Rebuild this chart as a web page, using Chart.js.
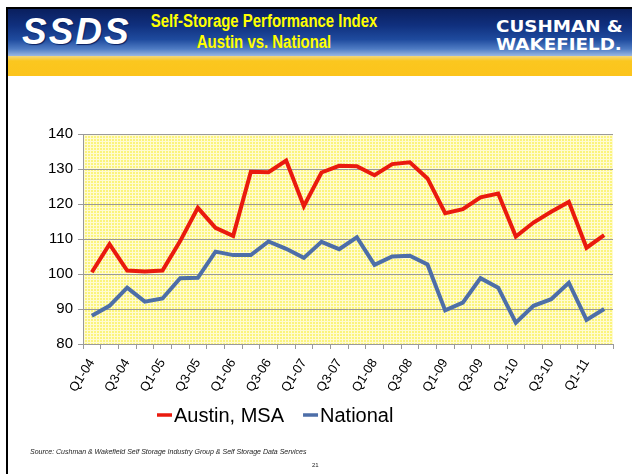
<!DOCTYPE html>
<html>
<head>
<meta charset="utf-8">
<script src="https://cdn.jsdelivr.net/npm/chart.js@4"></script>
<style>
  html, body { margin: 0; padding: 0; background: #fff; }
  body { width: 632px; height: 474px; position: relative; overflow: hidden; font-family: "Liberation Sans", Arial, sans-serif; }
  #chart { position: absolute; left: 0; top: 0; }
  .abs { position: absolute; }
  #topline { left: 6px; top: 7px; width: 626px; height: 2px; background: #000; }
  #leftline { left: 6px; top: 7px; width: 2px; height: 467px; background: #000; }
  #band { left: 8px; top: 9px; width: 624px; height: 47px;
    background: linear-gradient(to bottom, #0a1f5e 0%, #10307e 35%, #1f4b9e 65%, #4f7cc4 85%, #9bb8e2 100%); }
  #yband { left: 8px; top: 56px; width: 624px; height: 20px;
    background: linear-gradient(to bottom, #f4d77a 0%, #fbc71f 25%, #fcc41c 100%); }
  #ssds { left: 22px; top: 11px; line-height: 40px; font: italic bold 37px "Liberation Sans", Arial, sans-serif;
    color: #fff; letter-spacing: 2px; text-shadow: 1px 1px 1px #0a1f5e; }
  #title { left: 104px; top: 11px; width: 320px; text-align: center; line-height: 23px; white-space: nowrap;
    font: bold 18px "Liberation Sans", Arial, sans-serif; color: #ffff00;
    transform: scaleX(0.83); transform-origin: center top; }
  #cw { left: 496px; top: 18px; line-height: 14px; font: bold 15px "DejaVu Sans", sans-serif; color: #fff;
    transform: scaleX(1.22); transform-origin: left top; white-space: nowrap; }
  #source { left: 30px; top: 448px; font: italic 7px "Liberation Sans", Arial, sans-serif; color: #222; white-space: nowrap; }
  #page { left: 312px; top: 462px; font: 6px "Liberation Sans", Arial, sans-serif; color: #222; }
</style>
</head>
<body>
<canvas id="chart" width="632" height="474"></canvas>
<div class="abs" id="band"></div>
<div class="abs" id="yband"></div>
<div class="abs" id="topline"></div>
<div class="abs" id="leftline"></div>
<div class="abs" id="ssds">SSDS</div>
<div class="abs" id="title">Self-Storage Performance Index<br>Austin vs. National</div>
<div class="abs" id="cw">CUSHMAN &amp;<br>WAKEFIELD.</div>
<div class="abs" id="source">Source: Cushman &amp; Wakefield Self Storage Industry Group &amp; Self Storage Data Services</div>
<div class="abs" id="page">21</div>
<script>
const quarters = ["Q1-04","Q2-04","Q3-04","Q4-04","Q1-05","Q2-05","Q3-05","Q4-05",
  "Q1-06","Q2-06","Q3-06","Q4-06","Q1-07","Q2-07","Q3-07","Q4-07",
  "Q1-08","Q2-08","Q3-08","Q4-08","Q1-09","Q2-09","Q3-09","Q4-09",
  "Q1-10","Q2-10","Q3-10","Q4-10","Q1-11","Q2-11"];
const austin = [100.5,108.5,101.0,100.7,101.0,109.4,118.9,113.2,110.9,129.2,
  129.1,132.4,119.4,129.0,130.9,130.8,128.2,131.4,131.9,127.3,
  117.4,118.5,121.9,123.0,110.7,114.7,117.8,120.6,107.5,111.1];
const national = [88.1,90.9,96.1,92.1,93.0,98.8,98.9,106.4,105.4,105.4,
  109.3,107.2,104.6,109.2,107.1,110.5,102.6,105.0,105.2,102.7,
  89.6,91.8,98.8,96.1,86.1,90.9,92.8,97.5,86.9,90.0];
const seriesNames = ["Austin, MSA", "National"];
const yMin = 80, yMax = 140, yStep = 10;

function makePattern(ctx) {
  const t = document.createElement('canvas');
  t.width = 3; t.height = 3;
  const c = t.getContext('2d');
  c.fillStyle = '#fbf47c';
  c.fillRect(0, 0, 3, 3);
  c.fillStyle = '#fffbd2';
  c.fillRect(0, 0, 3, 1);
  c.fillRect(0, 0, 1, 3);
  return ctx.createPattern(t, 'repeat');
}

const bgPlugin = {
  id: 'plotBg',
  beforeDraw(chart) {
    const {ctx, chartArea: a} = chart;
    ctx.save();
    ctx.fillStyle = makePattern(ctx);
    ctx.fillRect(a.left, a.top, a.right - a.left, a.bottom - a.top);
    ctx.restore();
  }
};

const legendPlugin = {
  id: 'customLegend',
  afterDraw(chart) {
    const ctx = chart.ctx;
    ctx.save();
    ctx.font = '20px "Liberation Sans", Arial, sans-serif';
    ctx.textBaseline = 'middle';
    const y = 415;
    let x = 157;
    chart.data.datasets.forEach((ds) => {
      ctx.strokeStyle = ds.borderColor;
      ctx.lineWidth = 3.5;
      ctx.beginPath();
      ctx.moveTo(x, y);
      ctx.lineTo(x + 15, y);
      ctx.stroke();
      ctx.fillStyle = '#000';
      ctx.fillText(ds.label, x + 17, y + 1);
      x += 17 + ctx.measureText(ds.label).width + 19;
    });
    ctx.restore();
  }
};

new Chart(document.getElementById('chart'), {
  type: 'line',
  data: {
    labels: quarters,
    datasets: [
      { label: seriesNames[0], data: austin, borderColor: '#ea1a0e', backgroundColor: '#ea1a0e',
        borderWidth: 4, pointRadius: 0, tension: 0, borderJoinStyle: 'miter' },
      { label: seriesNames[1], data: national, borderColor: '#4d6ea8', backgroundColor: '#4d6ea8',
        borderWidth: 4, pointRadius: 0, tension: 0, borderJoinStyle: 'miter' }
    ]
  },
  options: {
    responsive: false,
    animation: false,
    devicePixelRatio: 1,
    layout: { padding: { top: 134, right: 19, left: 0, bottom: 0 } },
    plugins: { legend: { display: false }, tooltip: { enabled: false } },
    scales: {
      x: {
        offset: true,
        afterFit(s) { s.height = 130; },
        border: { display: true, color: '#9a9a9a', width: 1 },
        grid: { offset: true, drawOnChartArea: false, drawTicks: true, tickLength: 5, color: '#9a9a9a' },
        ticks: {
          autoSkip: false, minRotation: 58, maxRotation: 58, padding: 7,
          color: '#000', font: { size: 13, family: '"Liberation Sans", Arial, sans-serif' },
          callback(v, i) { return i % 2 === 0 ? quarters[i] : ''; }
        }
      },
      y: {
        min: yMin, max: yMax,
        afterFit(s) { s.width = 83; },
        border: { display: true, color: '#9a9a9a', width: 1 },
        grid: { color: '#9a9a9a', lineWidth: 1, tickLength: 5, drawTicks: true },
        ticks: { stepSize: yStep, padding: 5, color: '#000',
          font: { size: 15, family: '"Liberation Sans", Arial, sans-serif' } }
      }
    }
  },
  plugins: [bgPlugin, legendPlugin]
});
</script>
</body>
</html>
